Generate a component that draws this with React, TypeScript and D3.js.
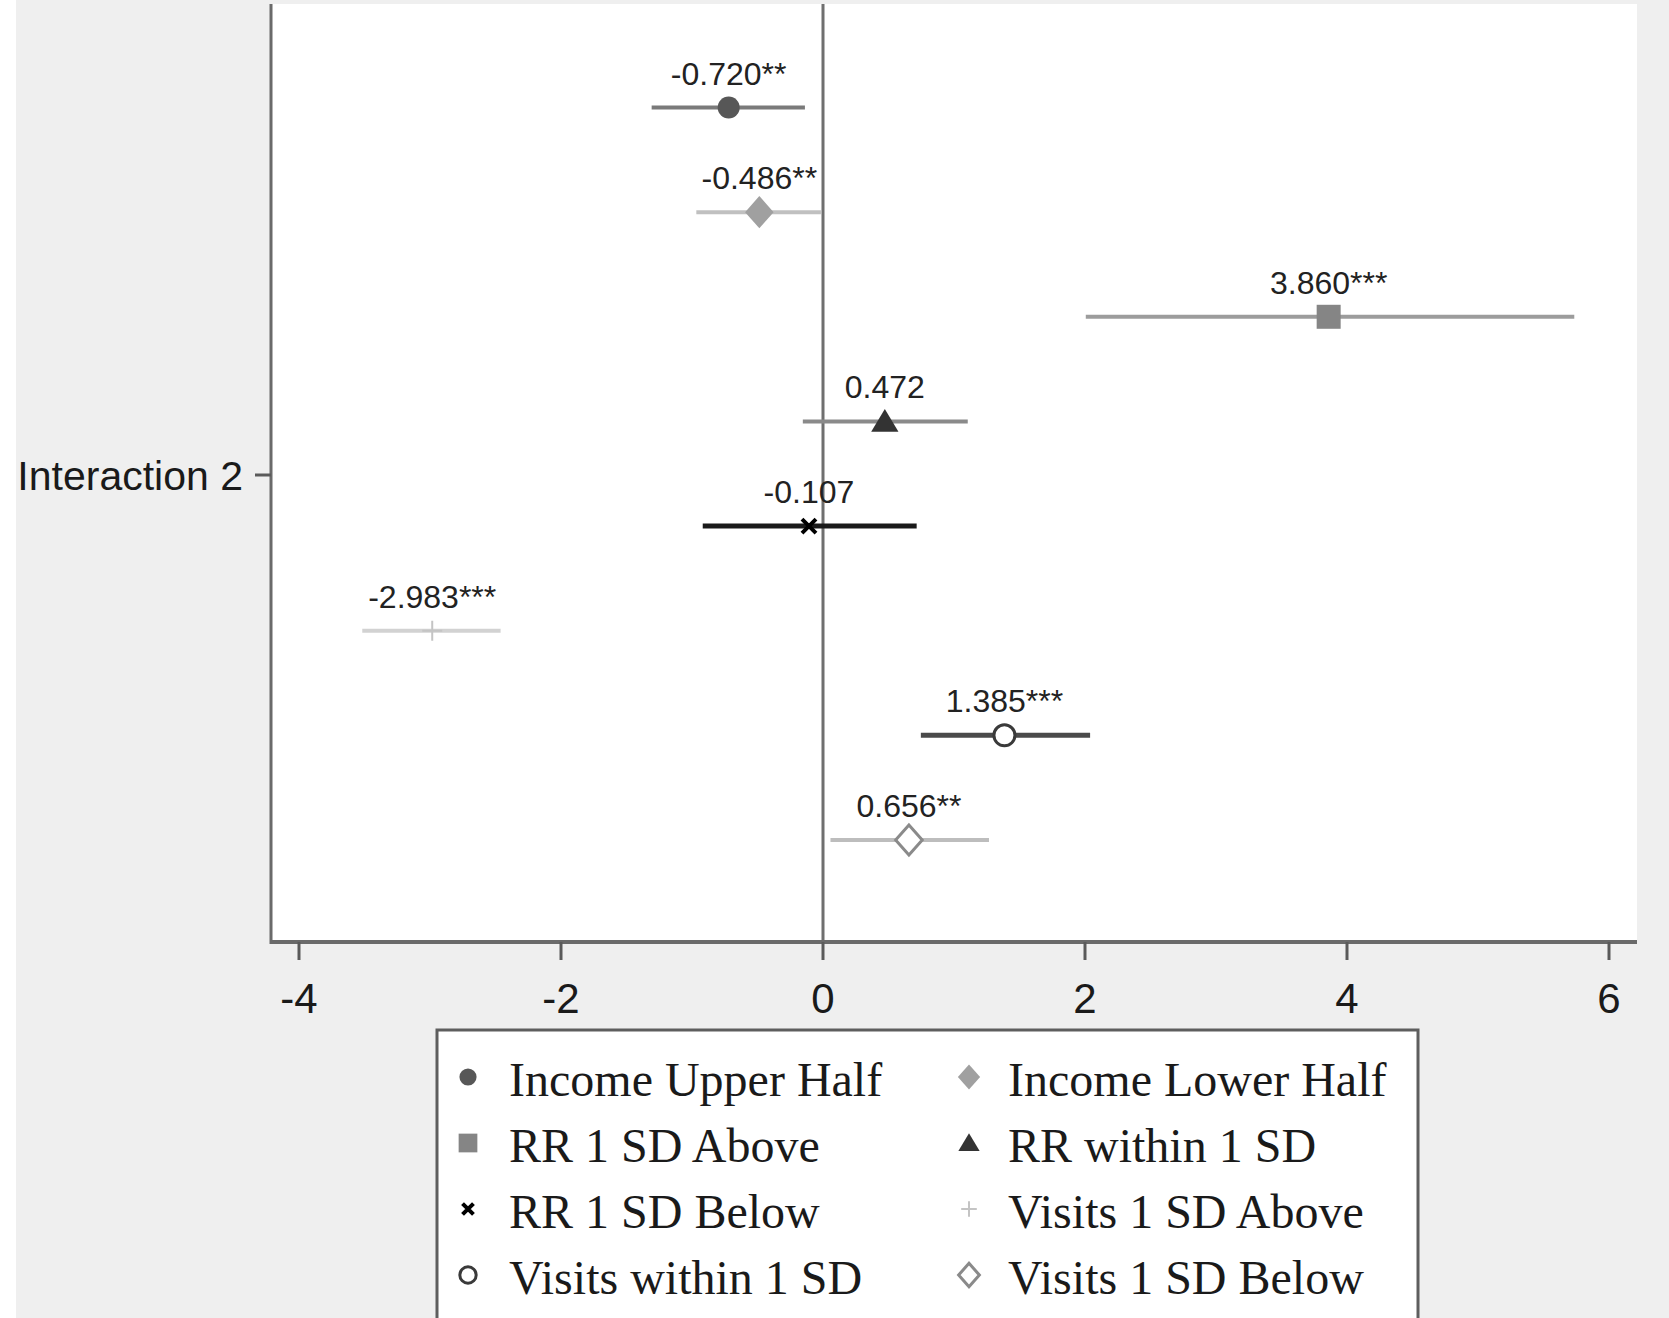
import React from "react";
import * as d3 from "d3";

// Coefficient plot: estimates with confidence intervals for each subgroup
const groups = [
  "Income Upper Half",
  "Income Lower Half",
  "RR 1 SD Above",
  "RR within 1 SD",
  "RR 1 SD Below",
  "Visits 1 SD Above",
  "Visits within 1 SD",
  "Visits 1 SD Below",
];
const estimates = [-0.72, -0.486, 3.86, 0.472, -0.107, -2.983, 1.385, 0.656];
const ciLow = [-1.308, -0.967, 2.006, -0.154, -0.918, -3.517, 0.747, 0.057];
const ciHigh = [-0.138, -0.016, 5.735, 1.105, 0.715, -2.461, 2.039, 1.267];
const stars = ["**", "**", "***", "", "", "***", "***", "**"];
const xTicks = [-4, -2, 0, 2, 4, 6];
const yCategory = ["Interaction 2"];

type Kind = "circle" | "diamond" | "square" | "triangle" | "x" | "plus";
type Style = {
  kind: Kind;
  r: number;
  fill: string;
  stroke: string;
  line: string;
  lineWidth: number;
};

const styles: Style[] = [
  { kind: "circle", r: 11, fill: "#575757", stroke: "none", line: "#7a7a7a", lineWidth: 4 },
  { kind: "diamond", r: 15, fill: "#a0a0a0", stroke: "none", line: "#c0c0c0", lineWidth: 4 },
  { kind: "square", r: 12, fill: "#858585", stroke: "none", line: "#9c9c9c", lineWidth: 4 },
  { kind: "triangle", r: 13, fill: "#333333", stroke: "none", line: "#8a8a8a", lineWidth: 4 },
  { kind: "x", r: 7, fill: "none", stroke: "#000000", line: "#1a1a1a", lineWidth: 5 },
  { kind: "plus", r: 10, fill: "none", stroke: "#c4c4c4", line: "#d2d2d2", lineWidth: 4 },
  { kind: "circle", r: 10.5, fill: "#ffffff", stroke: "#3a3a3a", line: "#4a4a4a", lineWidth: 5 },
  { kind: "diamond", r: 14, fill: "#ffffff", stroke: "#8a8a8a", line: "#bdbdbd", lineWidth: 4 },
];

const W = 1669;
const H = 1318;
const plot = { left: 271, right: 1637, top: 4, bottom: 942 };

function shapePath(kind: Kind, r: number): string {
  const p = d3.path();
  switch (kind) {
    case "circle":
      p.arc(0, 0, r, 0, Math.PI * 2);
      break;
    case "diamond":
      p.moveTo(0, -r * 1.07);
      p.lineTo(r * 0.95, 0);
      p.lineTo(0, r * 1.07);
      p.lineTo(-r * 0.95, 0);
      p.closePath();
      break;
    case "square":
      p.rect(-r, -r, 2 * r, 2 * r);
      break;
    case "triangle":
      p.moveTo(0, -r * 0.95);
      p.lineTo(r * 1.05, r * 0.8);
      p.lineTo(-r * 1.05, r * 0.8);
      p.closePath();
      break;
    case "x":
      p.moveTo(-r, -r);
      p.lineTo(r, r);
      p.moveTo(r, -r);
      p.lineTo(-r, r);
      break;
    case "plus":
      p.moveTo(-r, 0);
      p.lineTo(r, 0);
      p.moveTo(0, -r);
      p.lineTo(0, r);
      break;
  }
  return p.toString();
}

function Marker({ s, x, y, scale = 1 }: { s: Style; x: number; y: number; scale?: number }) {
  const d = shapePath(s.kind, s.r * scale);
  const sw = s.kind === "x" ? 4 : s.kind === "plus" ? 2 : s.stroke === "none" ? 0 : 3;
  return (
    <path d={d} transform={`translate(${x},${y})`} fill={s.fill} stroke={s.stroke} strokeWidth={sw} />
  );
}

const fmtNum = (v: number) => (v < 0 ? "-" : "") + Math.abs(v).toFixed(3);

export default function App() {
  const x = d3.scaleLinear().domain([-4, 6]).range([299, 1609]);
  const y = d3.scalePoint<string>().domain(groups).range([107.5, 840]);

  const legendRows = [0, 1, 2, 3];
  const legendY = (r: number) => 1077 + r * 66;

  return (
    <svg
      width={W}
      height={H}
      style={{ position: "absolute", left: 0, top: 0, display: "block" }}
      fontFamily="Liberation Sans, Arial, sans-serif"
    >
      <rect x={0} y={0} width={W} height={H} fill="#ffffff" />
      <rect x={16} y={0} width={W - 16} height={H} fill="#efefef" />
      {/* plot region */}
      <rect
        x={plot.left}
        y={plot.top}
        width={plot.right - plot.left}
        height={plot.bottom - plot.top}
        fill="#ffffff"
      />

      {/* zero reference line */}
      <line x1={x(0)} x2={x(0)} y1={plot.top} y2={plot.bottom} stroke="#6f6f6f" strokeWidth={3} />

      {/* axes */}
      <line x1={plot.left} x2={plot.left} y1={plot.top} y2={plot.bottom + 2} stroke="#6a6a6a" strokeWidth={3} />
      <line x1={plot.left - 1} x2={plot.right} y1={plot.bottom} y2={plot.bottom} stroke="#6a6a6a" strokeWidth={4} />

      {xTicks.map((t) => (
        <g key={t}>
          <line x1={x(t)} x2={x(t)} y1={plot.bottom} y2={plot.bottom + 18} stroke="#5a5a5a" strokeWidth={3} />
          <text x={x(t)} y={1013} textAnchor="middle" fontSize={42} fill="#1a1a1a">
            {t < 0 ? `-${Math.abs(t)}` : t}
          </text>
        </g>
      ))}

      {yCategory.map((c) => (
        <g key={c}>
          <line x1={plot.left - 16} x2={plot.left} y1={475} y2={475} stroke="#5a5a5a" strokeWidth={3} />
          <text x={243} y={490} textAnchor="end" fontSize={41} fill="#1a1a1a">
            {c}
          </text>
        </g>
      ))}

      {/* estimates with intervals */}
      {groups.map((g, i) => {
        const s = styles[i];
        const cy = y(g) as number;
        return (
          <g key={g}>
            <line x1={x(ciLow[i])} x2={x(ciHigh[i])} y1={cy} y2={cy} stroke={s.line} strokeWidth={s.lineWidth} />
            <Marker s={s} x={x(estimates[i])} y={cy} />
            <text x={x(estimates[i])} y={cy - 23} textAnchor="middle" fontSize={32} fill="#222">
              {fmtNum(estimates[i]) + stars[i]}
            </text>
          </g>
        );
      })}

      {/* legend */}
      <rect x={437} y={1030} width={981} height={290} fill="#ffffff" stroke="#5e5e5e" strokeWidth={3} />
      {legendRows.map((r) =>
        [0, 1].map((c) => {
          const idx = r * 2 + c;
          const s = styles[idx];
          const mx = c === 0 ? 468 : 969;
          const tx = c === 0 ? 509 : 1008;
          const ly = legendY(r);
          return (
            <g key={idx}>
              <Marker s={s} x={mx} y={ly} scale={0.78} />
              <text
                x={tx}
                y={ly + 19}
                fontSize={48}
                fontFamily="Liberation Serif, Times New Roman, serif"
                fill="#1a1a1a"
              >
                {groups[idx]}
              </text>
            </g>
          );
        })
      )}
    </svg>
  );
}
